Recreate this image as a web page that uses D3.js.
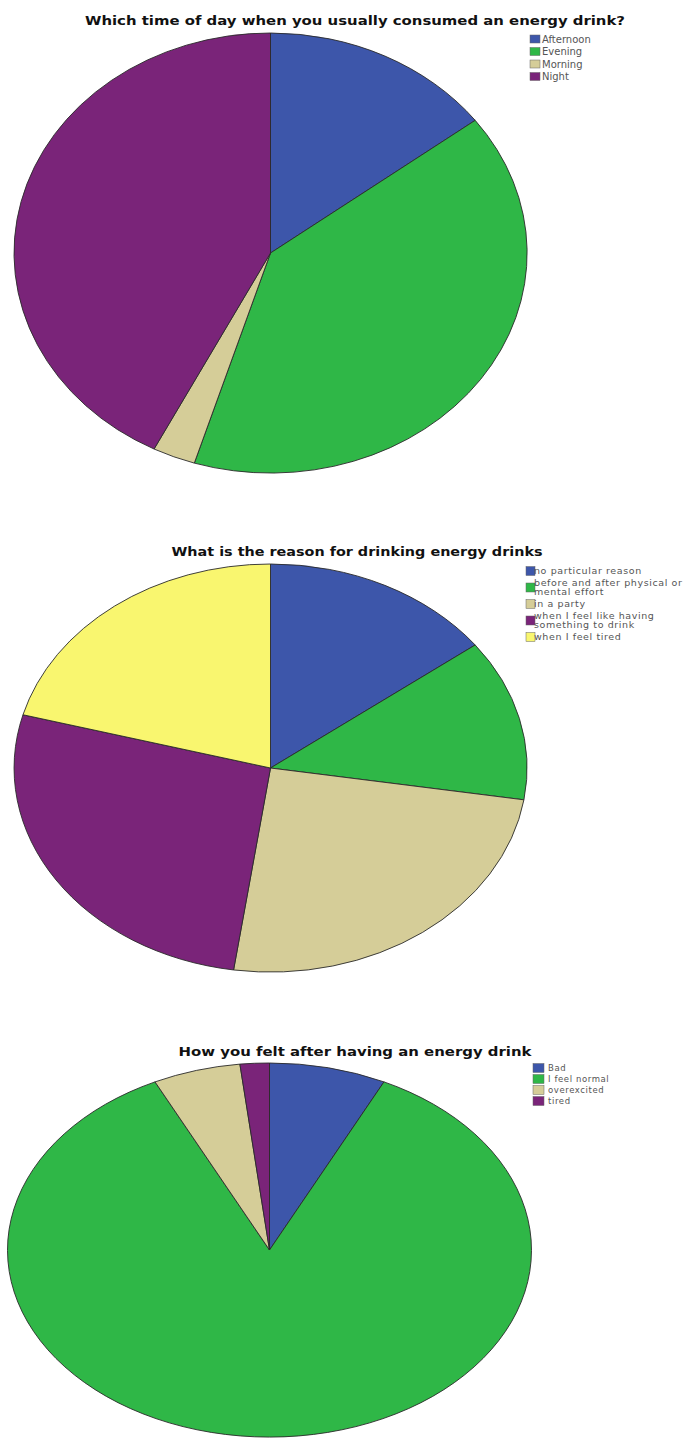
<!DOCTYPE html>
<html>
<head>
<meta charset="utf-8">
<script src="https://cdn.jsdelivr.net/npm/d3@7"></script>
<style>
  body { margin: 0; background: #fff; }
  svg { display: block; }
</style>
</head>
<body>
<div id="charts"></div>
<script>
// chart data (percent of respondents)
var timeTitle = "Which time of day when you usually consumed an energy drink?";
var timeLabels = ["Afternoon", "Evening", "Morning", "Night"];
var timeValues = [14.7, 40.1, 2.7, 42.5];

var reasonTitle = "What is the reason for drinking energy drinks";
var reasonLabels = [
  "no particular reason",
  "before and after physical or\nmental effort",
  "in a party",
  "when I feel like having\nsomething to drink",
  "when I feel tired"
];
var reasonValues = [14.7, 12.8, 24.8, 26.9, 20.8];

var feelTitle = "How you felt after having an energy drink";
var feelLabels = ["Bad", "I feel normal", "overexcited", "tired"];
var feelValues = [7.2, 85.6, 5.4, 1.8];

// SPSS default palette
var palette = ["#3d56aa", "#2fb747", "#d5cd98", "#7a2479", "#f9f66f"];

var svg = d3.select("#charts").append("svg")
  .attr("width", 692)
  .attr("height", 1438);

svg.append("rect").attr("width", 692).attr("height", 1438).attr("fill", "#fff");

// layout for each pie
var charts = [
  { title: timeTitle, labels: timeLabels, values: timeValues,
    cx: 270.5, cy: 253, rx: 256.5, ry: 220,
    titleX: 355, titleY: 25, titleLen: 540,
    legX: 530, legY: 39, swW: 10, swH: 8, txtX: 542, fs: 10, lineH: 9, gap: 12.5, ls: 0 },
  { title: reasonTitle, labels: reasonLabels, values: reasonValues,
    cx: 270.5, cy: 768, rx: 256.5, ry: 204,
    titleX: 357, titleY: 556, titleLen: 371,
    legX: 526, legY: 571, swW: 9, swH: 9, txtX: 534, fs: 9.5, lineH: 9, gap: 12, ls: 0.6 },
  { title: feelTitle, labels: feelLabels, values: feelValues,
    cx: 269.5, cy: 1250, rx: 262, ry: 187,
    titleX: 355, titleY: 1056, titleLen: 353,
    legX: 533, legY: 1068, swW: 11, swH: 9, txtX: 548, fs: 8.5, lineH: 9, gap: 11, ls: 0.6 }
];

var pie = d3.pie().sort(null).value(function(d) { return d; });
var arc = d3.arc().innerRadius(0).outerRadius(1);

charts.forEach(function(c) {
  // title
  svg.append("text")
    .attr("x", c.titleX)
    .attr("y", c.titleY)
    .attr("text-anchor", "middle")
    .attr("font-family", "DejaVu Sans, sans-serif")
    .attr("font-weight", "bold")
    .attr("font-size", 13)
    .attr("fill", "#111")
    .attr("textLength", c.titleLen)
    .attr("lengthAdjust", "spacingAndGlyphs")
    .text(c.title);

  // pie drawn on a unit circle, then stretched into the ellipse
  var g = svg.append("g")
    .attr("transform", `translate(${c.cx},${c.cy}) scale(${c.rx},${c.ry})`);

  g.selectAll("path")
    .data(pie(c.values))
    .enter()
    .append("path")
    .attr("d", arc)
    .attr("fill", function(d, i) { return palette[i]; })
    .attr("stroke", "#2a2a2a")
    .attr("stroke-width", 0.9)
    .attr("vector-effect", "non-scaling-stroke");

  // legend
  var y = c.legY;
  c.labels.forEach(function(lab, i) {
    var lines = lab.split("\n");
    var mid = y + (lines.length - 1) * c.lineH / 2;
    svg.append("rect")
      .attr("x", c.legX)
      .attr("y", mid - c.swH / 2)
      .attr("width", c.swW)
      .attr("height", c.swH)
      .attr("fill", palette[i])
      .attr("stroke", "#666")
      .attr("stroke-width", 0.5);
    lines.forEach(function(line, j) {
      svg.append("text")
        .attr("x", c.txtX)
        .attr("y", y + j * c.lineH)
        .attr("dy", "0.35em")
        .attr("font-family", "DejaVu Sans, sans-serif")
        .attr("font-size", c.fs)
        .attr("letter-spacing", c.ls)
        .attr("fill", "#555")
        .text(line);
    });
    y += (lines.length - 1) * c.lineH + c.gap;
  });
});
</script>
</body>
</html>
